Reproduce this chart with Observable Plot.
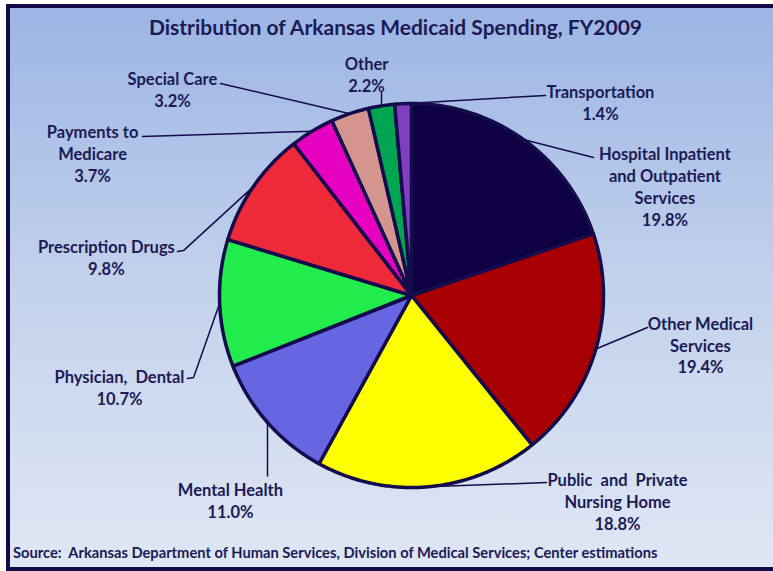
<!DOCTYPE html>
<html>
<head>
<meta charset="utf-8">
<script src="https://cdn.jsdelivr.net/npm/d3@7"></script>
<script src="https://cdn.jsdelivr.net/npm/@observablehq/plot@0.6"></script>
<style>
  html, body { margin: 0; padding: 0; background: #ffffff; overflow: hidden; }
  #frame {
    position: absolute; left: 6px; top: 4px; width: 800px; height: 567px;
    box-sizing: border-box; border: 4px solid #120b48;
    background: linear-gradient(to bottom, #9cb5e3 0%, #c3d2ec 50%, #dfe7f4 100%);
    font-family: Lato, "Open Sans", sans-serif; color: #1c1a56;
  }
  #title { width: 763px; height: 38px; line-height: 38px; text-align: center; font-weight: bold; font-size: 21px; padding-left: 8px; box-sizing: border-box; }
  #chart { width: 763px; height: 492px; }
  #source { width: 763px; height: 29px; line-height: 29px; font-weight: bold; font-size: 14.7px; padding-left: 3px; white-space: pre; }
</style>
</head>
<body>
<div id="frame">
  <div id="title">Distribution of Arkansas Medicaid Spending, FY2009</div>
  <div id="chart"></div>
  <div id="source">Source:  Arkansas Department of Human Services, Division of Medical Services; Center estimations</div>
</div>
<script>
// ---- data ----
const categories = [
  "Hospital Inpatient and Outpatient Services",
  "Other Medical Services",
  "Public and Private Nursing Home",
  "Mental Health",
  "Physician, Dental",
  "Prescription Drugs",
  "Payments to Medicare",
  "Special Care",
  "Other",
  "Transportation"
];
const shares = [19.8, 19.4, 18.8, 11.0, 10.7, 9.8, 3.7, 3.2, 2.2, 1.4];
const labelTexts = [
  "Hospital Inpatient\nand Outpatient\nServices",
  "Other Medical\nServices",
  "Public\u00a0 and\u00a0 Private\nNursing Home",
  "Mental Health",
  "Physician,\u00a0 Dental",
  "Prescription Drugs",
  "Payments to\nMedicare",
  "Special Care",
  "Other",
  "Transportation"
];
const colors = ["#0e0042", "#a80000", "#ffff00", "#6666e2", "#22ec4c", "#ee2a3a", "#e600bf", "#d4958f", "#00a54f", "#7f3fbf"];

// ---- label layout (in pie-radius units, relative to pie center) ----
const labelLayout = [
  {lx: 1.32, ly: 0.57, path: [[0.948, 0.719]]},
  {lx: 1.505, ly: -0.255, path: [[1.229, -0.167]]},
  {lx: 1.073, ly: -1.068, path: [[0.703, -0.974]]},
  {lx: -0.943, ly: -1.0625, path: [[-0.75, -0.94]]},
  {lx: -1.521, ly: -0.474, path: [[-1.135, -0.427], [-1.167, -0.432]]},
  {lx: -1.589, ly: 0.203, path: [[-1.1875, 0.234], [-1.219, 0.229]]},
  {lx: -1.661, ly: 0.74, path: [[-1.401, 0.828]]},
  {lx: -1.245, ly: 1.078, path: [[-0.995, 1.104]]},
  {lx: -0.234, ly: 1.156, path: [[-0.156, 1.057]]},
  {lx: 0.984, ly: 1.01, path: [[0.698, 1.042]]}
];

// ---- geometry ----
const W = 763, H = 492, CX = 401, CY = 249, R = 192;
const total = d3.sum(shares);
const slices = [];
const leaders = [];
const labels = [];
let cum = 0;
categories.forEach((name, i) => {
  const a0 = cum / total * 2 * Math.PI;
  cum += shares[i];
  const a1 = cum / total * 2 * Math.PI;
  slices.push({name, x: 0, y: 0});
  const n = Math.max(2, Math.ceil((a1 - a0) / (Math.PI / 360)));
  for (let k = 0; k <= n; k++) {
    const a = a0 + (a1 - a0) * k / n;
    slices.push({name, x: Math.sin(a), y: Math.cos(a)});
  }
  const am = (a0 + a1) / 2;
  const L = labelLayout[i];
  leaders.push({name, x: Math.sin(am), y: Math.cos(am)});
  L.path.forEach(([px, py]) => leaders.push({name, x: px, y: py}));
  labels.push({name, x: L.lx, y: L.ly, text: `${labelTexts[i]}\n${shares[i].toFixed(1)}%`});
});

const ink = "#140c4c";
const chart = Plot.plot({
  width: W, height: H, margin: 0,
  style: {background: "transparent", overflow: "visible"},
  x: {domain: [-CX / R, (W - CX) / R], axis: null},
  y: {domain: [-(H - CY) / R, CY / R], axis: null},
  color: {domain: categories, range: colors},
  marks: [
    Plot.line(leaders, {x: "x", y: "y", z: "name", stroke: ink, strokeWidth: 1.5}),
    Plot.line(slices, {x: "x", y: "y", z: "name", fill: "name", stroke: ink, strokeWidth: 3.5, curve: "linear-closed", strokeLinejoin: "round"}),
    Plot.text(labels, {x: "x", y: "y", text: "text", fill: "#1c1a56", fontSize: 16.5, fontWeight: "bold", fontFamily: "Lato, 'Open Sans', sans-serif", lineHeight: 22 / 16.5, textAnchor: "middle"})
  ]
});
document.getElementById("chart").appendChild(chart);
</script>
</body>
</html>
